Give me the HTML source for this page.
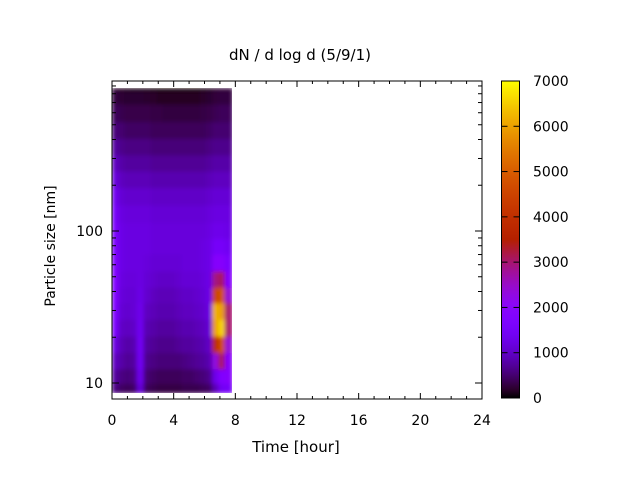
<!DOCTYPE html>
<html><head><meta charset="utf-8"><style>
body{margin:0;background:#fff;}
svg{display:block;font-family:"DejaVu Sans","Liberation Sans",sans-serif;}
</style></head><body>
<svg id="chart" width="640" height="480" viewBox="0 0 640 480">
<defs>
<filter id="blur" x="0" y="0" width="1" height="1"><feGaussianBlur stdDeviation="2.0" edgeMode="duplicate"/></filter>
<clipPath id="hmclip"><rect x="112" y="88" width="120" height="305"/></clipPath>
<linearGradient id="cbgrad" x1="0" y1="1" x2="0" y2="0"></linearGradient>
</defs>
<text x="300" y="60" text-anchor="middle" font-size="15">dN / d log d (5/9/1)</text>
<g id="heat" clip-path="url(#hmclip)"><g id="cells" filter="url(#blur)"></g></g>
<rect x="112" y="81" width="370" height="318" fill="none" stroke="#000" stroke-width="1"/>
<g id="axes"></g>
<text x="296" y="452" text-anchor="middle" font-size="15">Time [hour]</text>
<text transform="translate(55,246) rotate(-90)" text-anchor="middle" font-size="14">Particle size [nm]</text>
<rect x="501.5" y="81" width="18" height="317" fill="url(#cbgrad)"/>
<rect x="501.5" y="81" width="18" height="317" fill="none" stroke="#000" stroke-width="1"/>
<g id="cbaxis"></g>
</svg>
<script>
const times=[0.2,0.6,1.0,1.4,1.8,2.3,2.7,3.1,3.5,3.9,4.3,4.7,5.1,5.5,5.9,6.3,6.7,7.1,7.5];
const sizes=[9,11,14,18,23,30,38,48,62,80,100,130,170,220,280,360,460,600,780,900];
const values=[
[600,450,400,450,1100,400,350,300,300,300,300,350,350,350,400,450,900,1400,1500],
[750,600,550,600,1300,500,450,400,400,400,400,450,450,500,550,650,1300,1800,1900],
[950,800,700,750,1400,650,600,550,550,550,550,600,650,700,750,850,2300,3100,2000],
[1200,900,800,850,1400,750,700,650,650,650,700,750,750,800,850,1000,3800,4700,2400],
[1600,1000,950,1000,1350,850,800,750,750,750,800,850,850,900,950,1100,6000,6600,3000],
[1700,1100,1050,1100,1300,950,900,850,850,850,900,950,950,1000,1050,1200,6200,6000,3000],
[1750,1150,1100,1100,1250,1050,950,900,900,900,950,1000,1000,1050,1100,1250,4500,4800,2400],
[1750,1200,1150,1150,1200,1100,1050,1000,1000,1000,1050,1100,1100,1100,1150,1250,2900,3100,1900],
[1700,1250,1200,1200,1200,1150,1100,1100,1100,1100,1100,1150,1150,1150,1200,1250,1900,1900,1600],
[1650,1250,1200,1200,1200,1200,1150,1150,1150,1150,1150,1150,1150,1150,1200,1250,1500,1500,1400],
[1600,1250,1200,1200,1200,1200,1150,1150,1150,1150,1150,1150,1150,1150,1150,1200,1300,1300,1250],
[1500,1200,1150,1150,1150,1150,1100,1100,1100,1100,1100,1100,1100,1100,1100,1150,1200,1200,1200],
[1350,1100,1050,1050,1050,1050,1000,1000,1000,1000,1000,1000,1000,1000,1000,1050,1100,1100,1100],
[1150,950,900,900,900,900,850,850,850,850,850,850,850,850,850,900,950,950,950],
[950,800,750,750,750,750,700,700,700,700,700,700,700,700,700,750,800,800,800],
[750,650,600,600,600,600,550,550,550,550,550,550,550,550,550,600,650,650,650],
[550,500,450,450,450,450,400,400,400,400,400,400,400,400,400,450,500,500,500],
[400,350,320,320,320,320,300,300,280,280,280,280,280,280,300,320,370,400,400],
[280,230,210,210,210,200,180,160,160,160,160,160,160,160,180,210,260,280,280],
[180,130,90,40,40,40,10,10,10,10,10,10,10,10,40,90,180,230,230]
];
const xTicks=[0,4,8,12,16,20,24];
const yTicks=[10,100];
const cbTicks=[0,1000,2000,3000,4000,5000,6000,7000];
const timeRange=[0,7.8], sizeRange=[8.6,870], cbMax=7000;

const NS="http://www.w3.org/2000/svg";
const X=t=>112+t*(370/24);
const Y=s=>383-(Math.log10(s)-1)*152;
const CB=v=>398-v/cbMax*317;
function pal(v){let x=Math.max(0,Math.min(1,v/cbMax));
 let r=Math.sqrt(x),g=x*x*x,b=Math.max(0,Math.sin(2*Math.PI*x));
 return `rgb(${Math.round(r*255)},${Math.round(g*255)},${Math.round(b*255)})`;}
function mk(tag,attrs,parent){const e=document.createElementNS(NS,tag);for(const k in attrs)e.setAttribute(k,attrs[k]);parent.appendChild(e);return e;}

const cells=document.getElementById('cells');
const tEdges=[timeRange[0]];for(let i=1;i<times.length;i++)tEdges.push((times[i-1]+times[i])/2);tEdges.push(timeRange[1]);
const sEdges=[sizeRange[0]];for(let i=1;i<sizes.length;i++)sEdges.push(Math.sqrt(sizes[i-1]*sizes[i]));sEdges.push(sizeRange[1]);
for(let r=0;r<sizes.length;r++)for(let c=0;c<times.length;c++){
 const x0=X(tEdges[c]),x1=X(tEdges[c+1]),y0=Y(sEdges[r+1]),y1=Y(sEdges[r]);
 const el=mk('rect',{x:x0,y:y0,width:x1-x0+0.6,height:y1-y0+0.6,fill:pal(values[r][c])},cells);
 
 
}
const ax=document.getElementById('axes');
for(let h=0;h<=24;h++){const x=X(h),L=(h%4===0)?6:3;
 mk('line',{x1:x,x2:x,y1:399,y2:399-L,stroke:'#000'},ax);
 mk('line',{x1:x,x2:x,y1:81,y2:81+L,stroke:'#000'},ax);}
xTicks.forEach(t=>{const e=mk('text',{x:X(t),y:425,'text-anchor':'middle','font-size':14},ax);e.textContent=t;
 
 });
for(let d=10;d<=100;d*=10)for(let m=1;m<10;m++){const v=d*m;if(v<8.6||v>980)continue;const y=Y(v),L=m===1?7:4;
 mk('line',{x1:112,x2:112+L,y1:y,y2:y,stroke:'#000'},ax);
 mk('line',{x1:482,x2:482-L,y1:y,y2:y,stroke:'#000'},ax);}
yTicks.forEach(v=>{const e=mk('text',{x:103,y:Y(v)+5,'text-anchor':'end','font-size':14},ax);e.textContent=v;
 
 });
const grad=document.getElementById('cbgrad');
for(let i=0;i<=40;i++){mk('stop',{offset:(i/40),'stop-color':pal(i/40*cbMax)},grad);}
const cba=document.getElementById('cbaxis');
cbTicks.forEach(v=>{const y=CB(v);
 mk('line',{x1:519.5,x2:513.5,y1:y,y2:y,stroke:'#000'},cba);
 mk('line',{x1:501.5,x2:507.5,y1:y,y2:y,stroke:'#000'},cba);
 const e=mk('text',{x:533,y:y+5,'font-size':14},cba);e.textContent=v;
 
 });
</script>
</body></html>
